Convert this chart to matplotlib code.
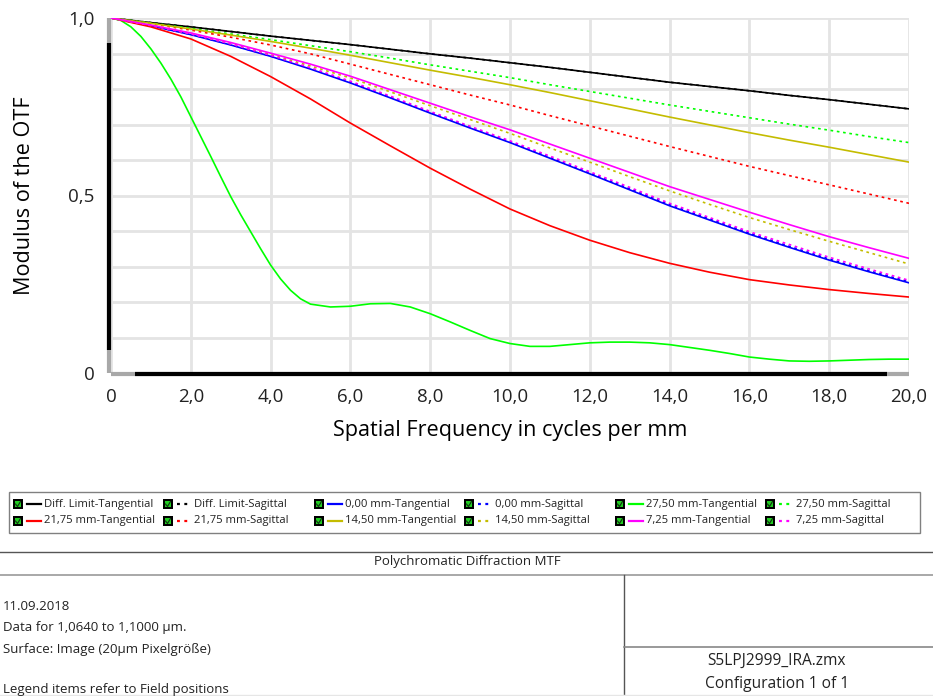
import matplotlib
matplotlib.use("Agg")
import matplotlib.pyplot as plt
from matplotlib.lines import Line2D
from matplotlib.patches import Rectangle

plt.rcParams['font.family'] = ['Open Sans', 'DejaVu Sans']

W, H = 933, 696

# spatial frequency (cycles/mm) and MTF values per field
freq = list(range(0, 21))
freq_fine = [i * 0.25 for i in range(21)] + [5.5 + i * 0.5 for i in range(30)]

diff_t = [1.000, 0.987, 0.975, 0.962, 0.949, 0.937, 0.925, 0.912, 0.899, 0.887, 0.874,
          0.861, 0.847, 0.833, 0.819, 0.807, 0.795, 0.782, 0.770, 0.757, 0.744]
diff_s = list(diff_t)
f000_t = [1.000, 0.978, 0.953, 0.924, 0.892, 0.856, 0.817, 0.775, 0.732, 0.690, 0.649,
          0.605, 0.561, 0.516, 0.471, 0.431, 0.391, 0.354, 0.318, 0.285, 0.254]
f000_s = [1.000, 0.978, 0.954, 0.925, 0.893, 0.858, 0.819, 0.777, 0.734, 0.692, 0.651,
          0.607, 0.563, 0.519, 0.474, 0.434, 0.394, 0.357, 0.321, 0.288, 0.257]
f2750_t = [1.000, 0.993, 0.975, 0.948, 0.913, 0.873, 0.828, 0.778, 0.722, 0.666, 0.610,
           0.553, 0.497, 0.446, 0.398, 0.350, 0.304, 0.265, 0.233, 0.209, 0.194,
           0.186, 0.188, 0.195, 0.196, 0.186, 0.167, 0.144, 0.120, 0.097, 0.083,
           0.075, 0.075, 0.080, 0.085, 0.087, 0.087, 0.085, 0.080, 0.072, 0.064,
           0.055, 0.045, 0.039, 0.034, 0.033, 0.034, 0.036, 0.038, 0.039, 0.039]
f2750_s = [1.000, 0.986, 0.971, 0.955, 0.939, 0.922, 0.905, 0.887, 0.868, 0.850, 0.832,
           0.812, 0.793, 0.774, 0.755, 0.737, 0.719, 0.701, 0.684, 0.666, 0.649]
f2175_t = [1.000, 0.975, 0.941, 0.892, 0.835, 0.772, 0.704, 0.640, 0.577, 0.518, 0.462,
           0.415, 0.374, 0.339, 0.309, 0.284, 0.263, 0.248, 0.235, 0.224, 0.214]
f2175_s = [1.000, 0.984, 0.966, 0.946, 0.924, 0.899, 0.870, 0.841, 0.812, 0.783, 0.755,
           0.725, 0.696, 0.667, 0.638, 0.610, 0.582, 0.556, 0.530, 0.504, 0.478]
f1450_t = [1.000, 0.985, 0.969, 0.952, 0.934, 0.915, 0.895, 0.874, 0.853, 0.833, 0.812,
           0.790, 0.767, 0.744, 0.721, 0.699, 0.677, 0.656, 0.636, 0.615, 0.594]
f1450_s = [1.000, 0.979, 0.956, 0.928, 0.897, 0.865, 0.831, 0.792, 0.753, 0.714, 0.675,
           0.634, 0.594, 0.553, 0.513, 0.475, 0.438, 0.404, 0.371, 0.339, 0.307]
f725_t = [1.000, 0.980, 0.958, 0.931, 0.901, 0.870, 0.836, 0.798, 0.760, 0.722, 0.685,
          0.645, 0.605, 0.565, 0.525, 0.489, 0.453, 0.418, 0.384, 0.353, 0.323]
f725_s = [1.000, 0.979, 0.955, 0.927, 0.895, 0.860, 0.822, 0.780, 0.737, 0.695, 0.654,
          0.611, 0.567, 0.523, 0.478, 0.438, 0.398, 0.362, 0.326, 0.293, 0.261]

labels = ["Diff. Limit-Tangential", "Diff. Limit-Sagittal",
          "0,00 mm-Tangential", "0,00 mm-Sagittal",
          "27,50 mm-Tangential", "27,50 mm-Sagittal",
          "21,75 mm-Tangential", "21,75 mm-Sagittal",
          "14,50 mm-Tangential", "14,50 mm-Sagittal",
          "7,25 mm-Tangential", "7,25 mm-Sagittal"]
xticks = [0, 2, 4, 6, 8, 10, 12, 14, 16, 18, 20]
xticklabels = ["0", "2,0", "4,0", "6,0", "8,0", "10,0", "12,0", "14,0", "16,0", "18,0", "20,0"]
yticklabels = ["0", "0,5", "1,0"]

yellow = "#c4bc00"
series = [
    (freq, diff_t, "black", "-"), (freq, diff_s, "black", ":"),
    (freq, f000_t, "#0000ff", "-"), (freq, f000_s, "#0000ff", ":"),
    (freq_fine, f2750_t, "#00ff00", "-"), (freq, f2750_s, "#00ff00", ":"),
    (freq, f2175_t, "#ff0000", "-"), (freq, f2175_s, "#ff0000", ":"),
    (freq, f1450_t, yellow, "-"), (freq, f1450_s, yellow, ":"),
    (freq, f725_t, "#ff00ff", "-"), (freq, f725_s, "#ff00ff", ":"),
]
dots = (1.6, 2.2)


def fx(px):
    return px / W


def fy(py):
    return 1 - py / H


fig = plt.figure(figsize=(W / 100, H / 100), dpi=100)
ax = fig.add_axes([fx(111), fy(373), 798 / W, 355 / H])

for x, y, c, ls in series:
    if ls == ":":
        ax.plot(x, y, color=c, lw=1.2, dashes=dots, zorder=3)
    else:
        ax.plot(x, y, color=c, lw=1.2, zorder=3)

ax.set_xlim(0, 20)
ax.set_ylim(0, 1)
ax.set_xticks(xticks)
ax.set_xticklabels(xticklabels)
ax.set_yticks([0, 0.5, 1.0])
ax.set_yticklabels(yticklabels)
ax.set_yticks([i / 10 for i in range(11)], minor=True)
ax.grid(True, which="both", color="#e4e4e4", lw=2.0, zorder=0)
ax.tick_params(which="both", length=0, labelsize=13.5, colors="#222222")
ax.tick_params(axis="x", pad=11)
ax.tick_params(axis="y", pad=12)
for s in ax.spines.values():
    s.set_visible(False)

# thick black axis bars with grey ends
ax.plot([-0.002, -0.002], [0, 1], transform=ax.transAxes, color="#a8a8a8", lw=3, clip_on=False, solid_capstyle="butt")
ax.plot([-0.002, -0.002], [0.065, 0.93], transform=ax.transAxes, color="black", lw=3, clip_on=False, solid_capstyle="butt")
ax.plot([0, 1], [-0.004, -0.004], transform=ax.transAxes, color="#a8a8a8", lw=3, clip_on=False, solid_capstyle="butt")
ax.plot([0.03, 0.973], [-0.004, -0.004], transform=ax.transAxes, color="black", lw=3, clip_on=False, solid_capstyle="butt")

ax.set_xlabel("Spatial Frequency in cycles per mm", fontsize=15.6, labelpad=10)
ax.set_ylabel("Modulus of the OTF", fontsize=15.6, labelpad=24)

# legend with check boxes
fig.add_artist(Rectangle((fx(9), fy(533)), fx(920) - fx(9), fy(492) - fy(533),
                         transform=fig.transFigure, fill=False, ec="#808080", lw=1))
col_x = [13, 163, 314, 464, 615, 765]
row_y = [504, 521]
for i, (lab, (x, y, c, ls)) in enumerate(zip(labels, series)):
    cx = col_x[i % 6]
    cy = row_y[i // 6]
    fig.add_artist(Rectangle((fx(cx), fy(cy + 5)), 10 / W, 10 / H, transform=fig.transFigure,
                             fc="black", ec="black", lw=0))
    fig.add_artist(Rectangle((fx(cx + 2), fy(cy + 3)), 6 / W, 6 / H, transform=fig.transFigure,
                             fc="#22cc22", ec="none", lw=0))
    fig.add_artist(Line2D([fx(cx + 2.5), fx(cx + 4.5), fx(cx + 7.5)], [fy(cy), fy(cy + 2.5), fy(cy - 2.5)],
                          transform=fig.transFigure, color="#103010", lw=0.8))
    if ls == ":":
        fig.add_artist(Line2D([fx(cx + 14), fx(cx + 28)], [fy(cy), fy(cy)], transform=fig.transFigure,
                              color=c, lw=1.6, dashes=(1.3, 2.0)))
    else:
        fig.add_artist(Line2D([fx(cx + 14), fx(cx + 28)], [fy(cy), fy(cy)], transform=fig.transFigure,
                              color=c, lw=1.6))
    fig.text(fx(cx + 31), fy(cy), lab, fontsize=8.1, va="center", ha="left", color="#222222")

# title block
line_kw = dict(transform=fig.transFigure, color="#555555", lw=1)
fig.add_artist(Line2D([0, 1], [fy(551.5), fy(551.5)], **line_kw))
fig.add_artist(Line2D([0, 1], [fy(575), fy(575)], color="#999999", lw=1.2, transform=fig.transFigure))
fig.add_artist(Line2D([fx(624), fx(624)], [fy(575), 0], **line_kw))
fig.add_artist(Line2D([fx(624), 1], [fy(647), fy(647)], color="#888888", lw=1.2, transform=fig.transFigure))
fig.add_artist(Line2D([0, 1], [fy(694.5), fy(694.5)], color="#e6e6e6", lw=1, transform=fig.transFigure))

fig.text(fx(467), fy(562), "Polychromatic Diffraction MTF", fontsize=9.5, ha="center", va="center", color="#222222")
info = ["11.09.2018", "Data for 1,0640 to 1,1000 \u00b5m.", "Surface: Image (20\u00b5m Pixelgr\u00f6\u00dfe)"]
for k, t in enumerate(info):
    fig.text(fx(3), fy(606 + k * 21.5), t, fontsize=9.5, ha="left", va="center", color="#222222")
fig.text(fx(3), fy(689), "Legend items refer to Field positions", fontsize=9.5, ha="left", va="center", color="#222222")
fig.text(fx(777), fy(661), "S5LPJ2999_IRA.zmx", fontsize=11.2, ha="center", va="center", color="#222222")
fig.text(fx(777), fy(684), "Configuration 1 of 1", fontsize=11.2, ha="center", va="center", color="#222222")

fig.savefig("out.png", dpi=100)
